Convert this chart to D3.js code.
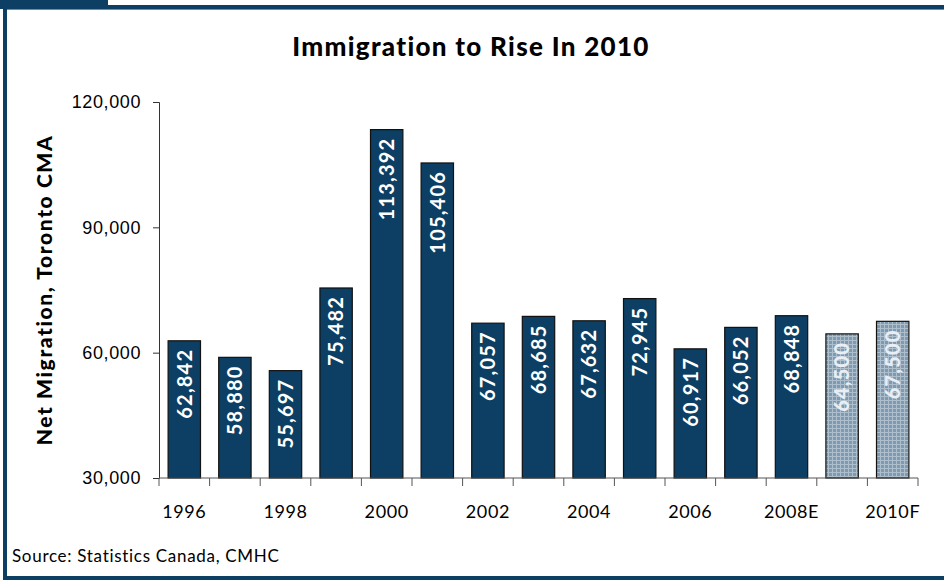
<!DOCTYPE html>
<html>
<head>
<meta charset="utf-8">
<script src="https://cdn.jsdelivr.net/npm/d3@7"></script>
<style>
  body { margin: 0; background: #fff; }
  svg { display: block; font-family: Lato, "Open Sans", sans-serif; }
</style>
</head>
<body>
<svg id="chart" width="944" height="580"></svg>
<script>
// data
var years = ["1996", "1997", "1998", "1999", "2000", "2001", "2002", "2003", "2004", "2005", "2006", "2007", "2008E", "2009F", "2010F"];
var migration = [62842, 58880, 55697, 75482, 113392, 105406, 67057, 68685, 67632, 72945, 60917, 66052, 68848, 64500, 67500];
var forecast = [false, false, false, false, false, false, false, false, false, false, false, false, false, true, true];
var tickYears = ["1996", "1998", "2000", "2002", "2004", "2006", "2008E", "2010F"];
var yTicks = [30000, 60000, 90000, 120000];

var data = years.map(function (d, i) {
    return { year: d, value: migration[i], forecast: forecast[i] };
});

var svg = d3.select("#chart");
var navy = "#0c3f63";

// frame
svg.append("rect").attr("x", 0).attr("y", 0).attr("width", 108).attr("height", 6).attr("fill", navy);
svg.append("rect").attr("x", 0).attr("y", 5).attr("width", 944).attr("height", 4).attr("fill", navy);
svg.append("rect").attr("x", 7).attr("y", 9).attr("width", 937).attr("height", 1).attr("fill", "#6f8ca5");
svg.append("rect").attr("x", 3).attr("y", 5).attr("width", 4).attr("height", 575).attr("fill", navy);
svg.append("rect").attr("x", 3).attr("y", 576).attr("width", 941).attr("height", 4).attr("fill", navy);

// grid pattern for forecast bars
var defs = svg.append("defs");
var pat = defs.append("pattern")
    .attr("id", "grid")
    .attr("patternUnits", "userSpaceOnUse")
    .attr("width", 4).attr("height", 4);
pat.append("rect").attr("width", 4).attr("height", 4).attr("fill", "#7f9ab0");
pat.append("rect").attr("width", 4).attr("height", 1).attr("fill", "#adbfcd").attr("shape-rendering", "crispEdges");
pat.append("rect").attr("width", 1).attr("height", 4).attr("fill", "#adbfcd").attr("shape-rendering", "crispEdges");

var plotL = 159, plotR = 918, plotT = 102, plotB = 478;

var x = d3.scaleBand()
    .domain(years)
    .range([plotL, plotR])
    .paddingInner(0.36)
    .paddingOuter(0.18);

var y = d3.scaleLinear()
    .domain([30000, 120000])
    .range([plotB, plotT]);

// title
svg.append("text")
    .attr("x", 471).attr("y", 56)
    .attr("text-anchor", "middle")
    .style("font-size", "26px")
    .style("font-weight", "900")
    .style("letter-spacing", "1.3px")
    .text("Immigration to Rise In 2010");

// bars
svg.selectAll(".bar")
    .data(data)
    .enter().append("rect")
    .attr("class", "bar")
    .attr("x", d => x(d.year))
    .attr("y", d => y(d.value))
    .attr("width", x.bandwidth())
    .attr("height", d => plotB - y(d.value))
    .attr("fill", d => d.forecast ? "url(#grid)" : navy)
    .attr("stroke", "#111")
    .attr("stroke-width", 1.2);

// value labels inside bars
svg.selectAll(".lbl")
    .data(data)
    .enter().append("text")
    .attr("class", "lbl")
    .attr("transform", d => "translate(" + (x(d.year) + x.bandwidth() / 2) + "," + (y(d.value) + 8) + ") rotate(-90)")
    .attr("text-anchor", "end")
    .attr("dy", "0.36em")
    .style("font-size", "20px")
    .style("font-weight", d => d.forecast ? "900" : "bold")
    .style("letter-spacing", "1.2px")
    .attr("fill", d => d.forecast ? "#e8eef3" : "#fff")
    .text(d => d3.format(",")(d.value));

// y axis
var yAxis = svg.append("g")
    .attr("transform", "translate(" + plotL + ",0)")
    .call(d3.axisLeft(y).tickValues(yTicks).tickFormat(d3.format(",")).tickSize(6).tickPadding(12));
yAxis.selectAll("text").style("font-size", "18px").style("letter-spacing", "0.6px").attr("fill", "#000");
yAxis.selectAll("line, path").attr("stroke", "#333");

// x axis: ticks between categories
var xg = svg.append("g").attr("transform", "translate(0," + plotB + ")");
xg.append("line").attr("x1", plotL).attr("x2", plotR).attr("stroke", "#555");
var step = x.step();
var boundaries = d3.range(years.length + 1).map(i => x(years[0]) - x.paddingOuter() * step + i * step);
xg.selectAll(".tk")
    .data(boundaries)
    .enter().append("line")
    .attr("x1", d => d).attr("x2", d => d)
    .attr("y1", 0).attr("y2", 8)
    .attr("stroke", "#555");
xg.selectAll(".xl")
    .data(tickYears)
    .enter().append("text")
    .attr("x", d => x(d) + x.bandwidth() / 2)
    .attr("y", 40)
    .attr("text-anchor", "middle")
    .style("font-size", "18px")
    .style("letter-spacing", "0.6px")
    .text(d => d);

// y axis title
svg.append("text")
    .attr("transform", "translate(52,290) rotate(-90)")
    .attr("text-anchor", "middle")
    .style("font-size", "21px")
    .style("font-weight", "900")
    .style("letter-spacing", "1.6px")
    .text("Net Migration, Toronto CMA");

// source
svg.append("text")
    .attr("x", 12).attr("y", 562)
    .style("font-size", "17px")
    .style("letter-spacing", "0.7px")
    .text("Source: Statistics Canada, CMHC");
</script>
</body>
</html>
